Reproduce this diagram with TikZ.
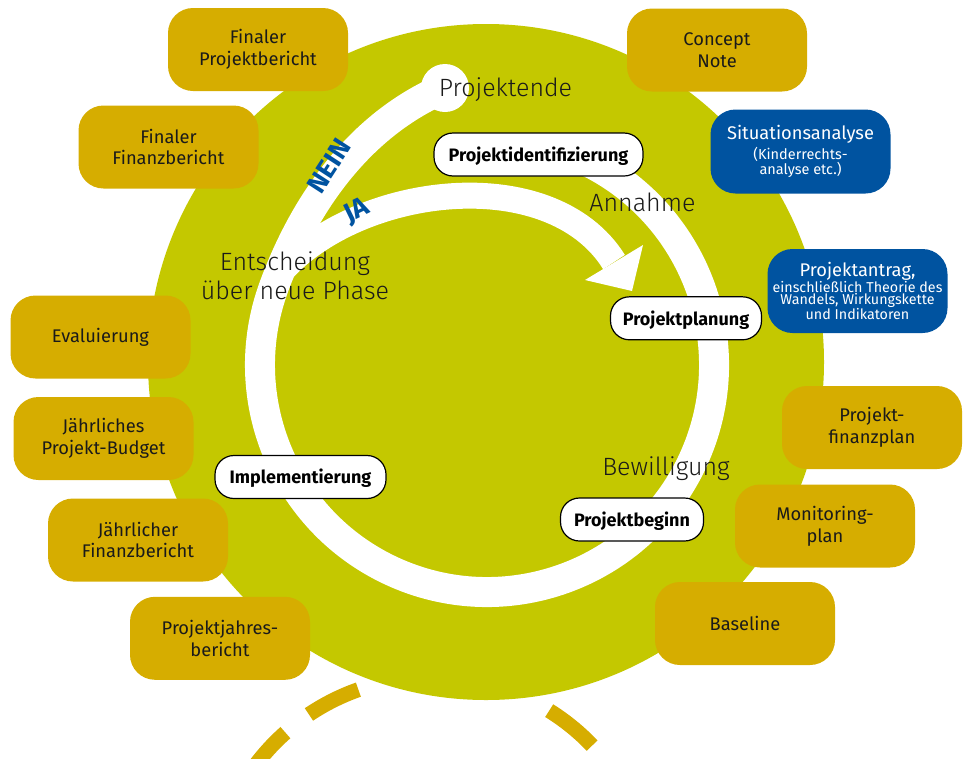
\documentclass[tikz,border=0pt]{standalone}
\usepackage{fontspec}
\setmainfont{Fira Sans}
\newfontfamily\lightfont{Fira Sans Light}
\usetikzlibrary{calc}
\definecolor{ringgreen}{HTML}{C4C800}
\definecolor{gold}{HTML}{D6AD00}
\definecolor{dblue}{HTML}{0053A0}
\definecolor{ink}{HTML}{1A1A1A}
\begin{document}
\begin{tikzpicture}[x=1pt,y=1pt,
  goldbox/.style={fill=gold, rounded corners=25pt, minimum width=180pt, minimum height=83pt, align=center, text=ink, font=\fontsize{18.3}{21.7}\selectfont},
  bluebox/.style={fill=dblue, rounded corners=25pt, minimum width=180pt, minimum height=84pt, align=center, text=white, inner sep=2pt},
  phasebox/.style={draw=black, line width=1.2pt, fill=white, rounded corners=19pt, minimum height=43pt, text height=13.5pt, text depth=0pt, font=\bfseries\fontsize{18}{21}\selectfont},
  lbl/.style={font=\lightfont\fontsize{25}{29}\selectfont, text=ink, anchor=base, inner sep=0pt},
  yn/.style={font=\bfseries\fontsize{27}{30}\selectfont, text=dblue, inner sep=0pt},
  band/.style={white, line width=30pt},
]
\useasboundingbox (0,0) rectangle (971,-758);
\clip (0,0) rectangle (971,-758);

% next cycle (dashed, behind)
\coordinate (nc) at (432,-898);
\draw[gold, line width=15pt, dash pattern=on 55.5pt off 29.7pt on 55.5pt off 198.6pt on 55.5pt off 29.7pt on 55.5pt off 29.7pt]
  ($(nc)+(21.5:221)$) arc[start angle=21.5, end angle=165, radius=221];

% big circle
\fill[ringgreen] (486,-362) circle[radius=338];

% main cycle band and NEIN branch
\coordinate (rc) at (487,-365);
\coordinate (pend) at (445,-88);
\draw[band] ($(rc)+(65:227)$) arc[start angle=65, end angle=-200, radius=227]
  .. controls (305,-201.5) and (360.9,-123.7) .. (pend);
\fill[white] (pend) circle[radius=24];

% JA branch with arrow head
\coordinate (jas) at (277,-276);
\coordinate (jae) at (614,-262);
\draw[white, line width=26pt] (jas) .. controls (354,-184) and (550.4,-160.2) .. (jae);
\coordinate (w1) at (643,-245);
\coordinate (w2) at (585,-280);
\coordinate (tip) at (632,-291);
\fill[white] (w1) -- (tip) -- (w2) -- cycle;

% phase labels
\node[lbl] (pe) at (505.5,-96.7) {Projektende};
\node[lbl] (an) at (642.5,-211.7) {Annahme};
\node[lbl] (ent1) at (295,-270.7) {Entscheidung};
\node[lbl] (ent2) at (295,-299) {über neue Phase};
\node[lbl] (bew) at (666,-475) {Bewilligung};

\node[yn, rotate=57] (nein) at (329,-166) {NEIN};
\node[yn, rotate=26] (ja) at (357,-212) {JA};

% phase boxes
\node[phasebox, minimum width=209pt] (pid) at (538.5,-154.5) {Projektidentifizierung};
\node[phasebox, minimum width=151pt] (ppl) at (686,-318.3) {Projektplanung};
\node[phasebox, minimum width=143pt] (pbg) at (632,-519.5) {Projektbeginn};
\node[phasebox, minimum width=171pt] (imp) at (300.5,-477) {Implementierung};

% documents
\node[goldbox] (fpb) at (258,-49.5) {Finaler\\Projektbericht};
\node[goldbox] (cn) at (717,-50) {Concept\\Note};
\node[goldbox] (ffb) at (168.5,-147) {Finaler\\Finanzbericht};
\node[goldbox] (eva) at (100.5,-337) {Evaluierung};
\node[goldbox] (jpb) at (103.5,-438.5) {Jährliches\\Projekt-Budget};
\node[goldbox] (jfb) at (138,-540) {Jährlicher\\Finanzbericht};
\node[goldbox] (pjb) at (220,-638.3) {Projektjahres-\\bericht};
\node[goldbox] (pfp) at (872,-427.5) {Projekt-\\finanzplan};
\node[goldbox] (mon) at (825,-526) {Monitoring-\\plan};
\node[goldbox] (bas) at (745,-623.5) {Baseline};

\node[bluebox] (sit) at (800.5,-151.5) {{\fontsize{18.3}{21}\selectfont Situationsanalyse}\\[3pt]
  {\fontsize{14.5}{15}\selectfont (Kinderrechts-}\\{\fontsize{14.5}{15}\selectfont analyse etc.)}};
\node[bluebox] (pan) at (857.5,-291) {{\fontsize{18.3}{20}\selectfont Projektantrag,}\\[0pt]
  {\fontsize{14.3}{16}\selectfont einschließlich Theorie des}\\{\fontsize{14.3}{16}\selectfont Wandels, Wirkungskette}\\{\fontsize{14.3}{16}\selectfont und Indikatoren}};
\end{tikzpicture}
\end{document}
